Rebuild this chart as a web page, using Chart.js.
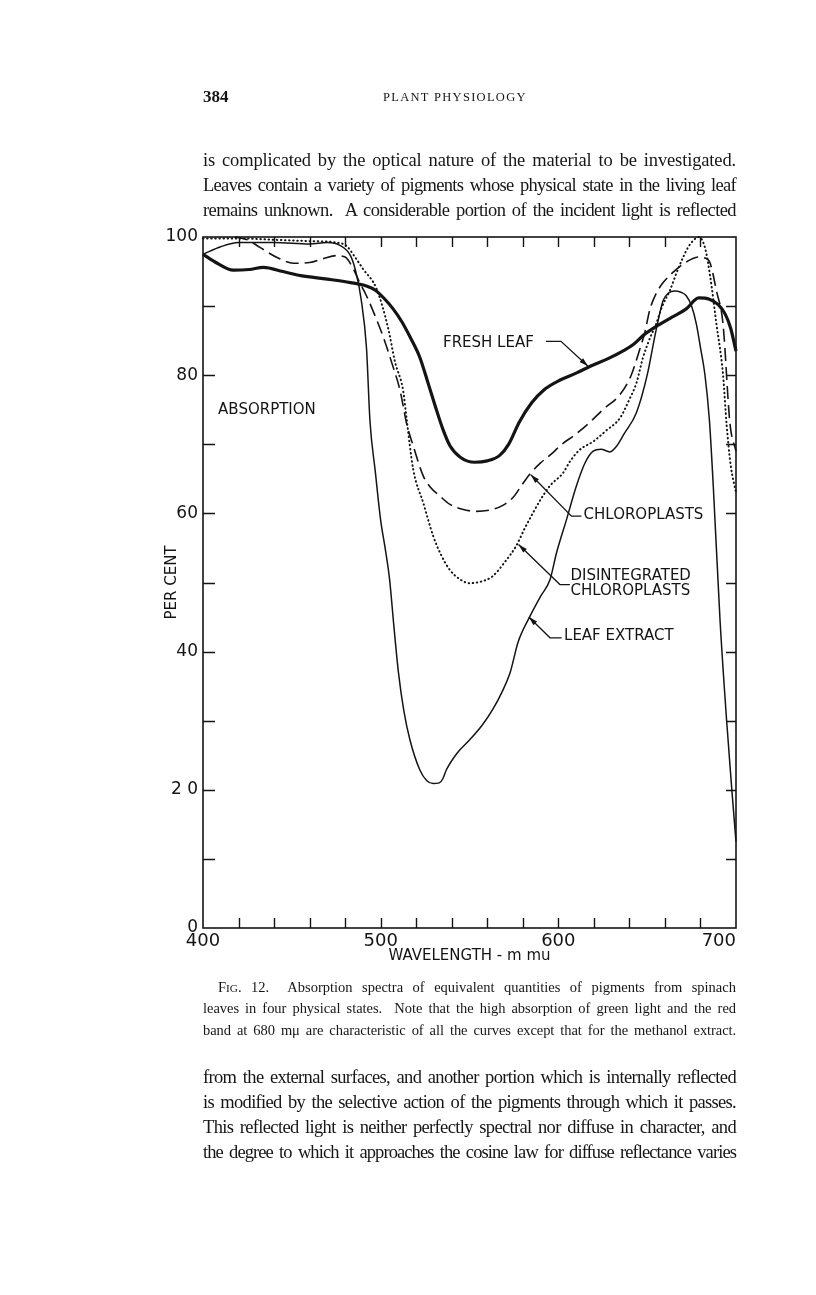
<!DOCTYPE html>
<html><head><meta charset="utf-8">
<script src="https://cdn.jsdelivr.net/npm/chart.js@4.4.1/dist/chart.umd.min.js"></script>
<style>
html,body{margin:0;padding:0;background:#fff;}
body{width:816px;height:1295px;position:relative;overflow:hidden;}
#c{position:absolute;left:0;top:0;}
.ln{position:absolute;left:203px;white-space:nowrap;font-family:"Liberation Serif","DejaVu Serif",serif;color:#161616;}
.body{font-size:18.5px;line-height:24px;}
.cap{font-size:14.5px;line-height:20px;}
.sc{font-size:0.78em;}
</style></head><body>
<canvas id="c" width="816" height="1295"></canvas>
<div class="ln" style="top:86px;font-size:17px;font-weight:bold;line-height:22px">384</div>
<div class="ln" style="top:88px;left:383px;font-size:12.5px;letter-spacing:1.3px;line-height:18px">PLANT PHYSIOLOGY</div>
<div class="ln body just" style="top:148px"><span>is complicated by the optical nature of the material to be investigated.</span></div>
<div class="ln body just" style="top:173px"><span>Leaves contain a variety of pigments whose physical state in the living leaf</span></div>
<div class="ln body just" style="top:198px"><span>remains unknown.&nbsp; A considerable portion of the incident light is reflected</span></div>
<div class="ln cap just" style="top:977px;left:218px" data-w="518"><span>F<span class="sc">IG</span>. 12.&nbsp; Absorption spectra of equivalent quantities of pigments from spinach</span></div>
<div class="ln cap just" style="top:998px"><span>leaves in four physical states.&nbsp; Note that the high absorption of green light and the red</span></div>
<div class="ln cap just" style="top:1020px"><span>band at 680 mμ are characteristic of all the curves except that for the methanol extract.</span></div>
<div class="ln body just" style="top:1065px"><span>from the external surfaces, and another portion which is internally reflected</span></div>
<div class="ln body just" style="top:1090px"><span>is modified by the selective action of the pigments through which it passes.</span></div>
<div class="ln body just" style="top:1115px"><span>This reflected light is neither perfectly spectral nor diffuse in character, and</span></div>
<div class="ln body just" style="top:1140px"><span>the degree to which it approaches the cosine law for diffuse reflectance varies</span></div>
<script>
// ---- data (wavelength in m mu, absorption in per cent) ----
const freshLeafNm = [400,408,417,426,434,445,455,470,483,492,497,502,507,512,517,522,527,531,535,539,545,553,560,567,572,578,585,592,601,610,618,628,637,642,648,656,664,672,679,685,690,694,697,700];
const freshLeafPct = [97.5,96.2,95.2,95.3,95.6,95.0,94.4,93.9,93.4,92.9,92.3,91.1,89.6,87.7,85.3,82.6,78.6,75.3,72.2,69.8,68.1,67.4,67.6,68.4,70.0,73.2,76.0,77.9,79.3,80.3,81.3,82.4,83.6,84.4,85.8,87.2,88.4,89.6,91.2,91.0,90.2,88.8,86.8,83.5];

const chloroplastNm = [418,425,432,442,451,460,468,475,480,484.6,488,492,497,501.5,506,511,514.6,518.3,524,528,533.4,539,546,554,563.3,569,574.5,580,584,590,597,601,610,617.8,625,634.7,641,645.9,648.7,651.5,655,659,665,670.3,675,678.7,682,685.3,689,692.7,696.6,700];
const chloroplastPct = [100,99.6,98.5,97.0,96.2,96.3,96.9,97.3,97.1,95.4,93.5,91.5,88.5,85.5,82.0,77.7,73.0,69.8,65.4,63.8,62.5,61.3,60.6,60.3,60.6,61.2,62.3,64.3,65.7,67.3,68.8,69.8,71.5,73.2,75.0,77.2,80.0,83.8,86.2,89.5,91.8,93.4,95.0,96.1,96.8,97.1,97.0,96.3,92.2,87.4,73.0,69.0];

const disintegratedNm = [400,420,440,460,475,480.8,485,490,497.7,504.3,508,512.7,514.6,518.3,524,529.6,534,539,545,550,556,563,570,576.3,581,585.8,590,595.3,602.8,606.5,612,619.6,627,634.7,640,644,647.6,651,655,658.5,662.7,666.5,670.3,673,676,679,682.5,685.3,689,692.7,694.7,697,700];
const disintegratedPct = [99.8,99.8,99.6,99.4,99.2,98.7,97.3,95.4,92.5,86.7,82.0,77.7,73.7,66.4,61.5,56.7,54.0,51.8,50.4,49.9,50.1,50.9,53.0,55.3,57.8,60.1,62.0,64.0,65.9,67.5,69.2,70.4,72.0,73.8,76.5,78.9,82.5,85.0,87.4,90.0,92.2,94.8,97.1,98.5,99.5,100,98.5,94.6,87.4,80.1,72.9,67.0,63.0];

const leafExtractNm = [400,410,420,440,460,470,477,483,486,489,492,494,497,500,502.5,505,507.5,510,513,516.5,522,526,529.6,533,535,537,543,550,557,563,568,572.8,577.5,584,590,595.3,599,604.6,610.2,615,619.6,624,629,633,637,644,650,655,659,662,665.6,669,672,675,677.7,680,682.5,685,687.2,691,694.7,697.5,700];
const leafExtractPct = [97.5,98.6,99.2,99.2,99.0,99.2,98.8,97.3,95.0,91.0,84.0,73.3,66.0,59.0,55.0,50.5,43.5,37.0,31.5,27.2,22.9,21.3,20.9,21.0,21.6,22.9,25.3,27.2,29.3,31.6,34.0,36.9,41.5,45.1,48.0,50.4,54.3,59.1,64.0,67.3,69.0,69.3,68.9,69.8,71.5,74.6,80.0,86.5,90.8,91.9,92.2,92.0,91.5,90.0,87.4,84.0,80.1,73.6,64.0,44.6,30.1,20.5,12.5];

const seriesNames = ['FRESH LEAF','CHLOROPLASTS','DISINTEGRATED CHLOROPLASTS','LEAF EXTRACT'];
const xTickValues = [400,420,440,460,480,500,520,540,560,580,600,620,640,660,680,700];
const xTickLabels = {400:'400',500:'500',600:'600',700:'700'};
const yTickValues = [0,10,20,30,40,50,60,70,80,90,100];
const yTickLabels = {0:'0',20:'2 0',40:'40',60:'60',80:'80',100:'100'};
const xTitle = 'WAVELENGTH - m mu';
const yTitle = 'PER CENT';

// ---- justify text lines ----
document.querySelectorAll('.just').forEach(d=>{
  const s=d.firstElementChild; const target=+(d.dataset.w||533);
  const w=s.getBoundingClientRect().width;
  const txt=s.textContent;
  const n=(txt.match(/[ \u00a0]/g)||[]).length;
  if(!n) return;
  let ws=(target-w)/n;
  const minWs=2.5;
  if(ws<minWs){
    const ls=(target-w-minWs*n)/txt.length;
    s.style.letterSpacing=ls+'px';
    const w2=s.getBoundingClientRect().width;
    ws=(target-w2)/n;
  }
  s.style.wordSpacing=ws+'px';
});

const pairs=(xs,ys)=>xs.map((x,i)=>({x:x,y:ys[i]}));
const INK='#141414';
const LF='"DejaVu Sans", "Liberation Sans", sans-serif';

const annotations=[
  {lines:['ABSORPTION'], nm:408.5, pct:75.0},
  {lines:['FRESH LEAF'], nm:535.1, pct:84.7, leader:[[593,84.9],[601.5,84.9],[616.7,81.3]]},
  {lines:['CHLOROPLASTS'], nm:614.2, pct:59.7, leader:[[613,59.6],[607.4,59.6],[584.5,65.6]]},
  {lines:['DISINTEGRATED','CHLOROPLASTS'], nm:606.8, pct:50.9, dy:2.1, leader:[[606.5,49.7],[600.9,49.7],[577.6,55.5]]},
  {lines:['LEAF EXTRACT'], nm:603.2, pct:42.2, leader:[[601.9,42.0],[595.3,42.0],[583.4,45.0]]}
];

const framePlugin={
  id:'frame',
  afterDatasetsDraw(chart){
    const {ctx,chartArea:a,scales:{x,y}}=chart;
    ctx.save();
    ctx.strokeStyle=INK; ctx.fillStyle=INK;
    ctx.lineWidth=1.6;
    ctx.strokeRect(a.left,a.top,a.right-a.left,a.bottom-a.top);
    ctx.lineWidth=1.4;
    ctx.beginPath();
    xTickValues.forEach(v=>{
      if(v===400||v===700) return;
      const px=Math.round(x.getPixelForValue(v))+0.5;
      ctx.moveTo(px,a.bottom); ctx.lineTo(px,a.bottom-10);
      ctx.moveTo(px,a.top); ctx.lineTo(px,a.top+10);
    });
    yTickValues.forEach(v=>{
      if(v===0||v===100) return;
      const py=Math.round(y.getPixelForValue(v))+0.5;
      ctx.moveTo(a.left,py); ctx.lineTo(a.left+12,py);
      ctx.moveTo(a.right,py); ctx.lineTo(a.right-10,py);
    });
    ctx.stroke();
    ctx.font='15px '+LF;
    ctx.textBaseline='middle'; ctx.textAlign='left';
    annotations.forEach(an=>{
      an.lines.forEach((t,i)=>{
        ctx.fillText(t, x.getPixelForValue(an.nm), y.getPixelForValue(an.pct-(an.dy||0)*i));
      });
      if(an.leader){
        const pts=an.leader.map(p=>[x.getPixelForValue(p[0]),y.getPixelForValue(p[1])]);
        ctx.lineWidth=1.3;
        ctx.beginPath();
        pts.forEach((p,i)=>i?ctx.lineTo(p[0],p[1]):ctx.moveTo(p[0],p[1]));
        ctx.stroke();
        const p1=pts[pts.length-2], p2=pts[pts.length-1];
        const ang=Math.atan2(p2[1]-p1[1],p2[0]-p1[0]);
        ctx.beginPath();
        ctx.moveTo(p2[0],p2[1]);
        ctx.lineTo(p2[0]-9*Math.cos(ang)+2.6*Math.sin(ang), p2[1]-9*Math.sin(ang)-2.6*Math.cos(ang));
        ctx.lineTo(p2[0]-9*Math.cos(ang)-2.6*Math.sin(ang), p2[1]-9*Math.sin(ang)+2.6*Math.cos(ang));
        ctx.closePath(); ctx.fill();
      }
    });
    ctx.restore();
  }
};

const common={pointRadius:0,borderColor:INK,cubicInterpolationMode:'monotone',fill:false,clip:4};
new Chart(document.getElementById('c'),{
  type:'line',
  data:{datasets:[
    Object.assign({label:seriesNames[0],data:pairs(freshLeafNm,freshLeafPct),borderWidth:3.2},common),
    Object.assign({label:seriesNames[1],data:pairs(chloroplastNm,chloroplastPct),borderWidth:1.6,borderDash:[13,6]},common),
    Object.assign({label:seriesNames[2],data:pairs(disintegratedNm,disintegratedPct),borderWidth:2,borderDash:[0.5,3.6],borderCapStyle:'round'},common),
    Object.assign({label:seriesNames[3],data:pairs(leafExtractNm,leafExtractPct),borderWidth:1.5},common)
  ]},
  options:{
    responsive:false, animation:false, devicePixelRatio:1,
    layout:{padding:{left:150,top:237,right:80,bottom:325}},
    plugins:{legend:{display:false},tooltip:{enabled:false}},
    scales:{
      x:{type:'linear',min:400,max:700,
        afterBuildTicks:s=>{s.ticks=xTickValues.map(v=>({value:v}));},
        afterFit:s=>{s.height=42;},
        grid:{display:false,drawTicks:false},border:{display:false},
        ticks:{autoSkip:false,maxRotation:0,padding:3,color:INK,font:{family:LF,size:18},
          callback:v=>v===700?xTickLabels[v]+'      ':(xTickLabels[v]||'')},
        title:{display:true,text:xTitle,color:INK,font:{family:LF,size:15},padding:{top:0,bottom:5}}
      },
      y:{type:'linear',min:0,max:100,
        afterBuildTicks:s=>{s.ticks=yTickValues.map(v=>({value:v}));},
        afterFit:s=>{s.width=53;},
        grid:{display:false,drawTicks:false},border:{display:false},
        ticks:{autoSkip:false,padding:5,color:INK,font:{family:LF,size:17},
          callback:v=>yTickLabels[v]||''},
        title:{display:true,text:yTitle,color:INK,font:{family:LF,size:15},padding:{top:13,bottom:0}}
      }
    }
  },
  plugins:[framePlugin]
});
</script>
</body></html>
